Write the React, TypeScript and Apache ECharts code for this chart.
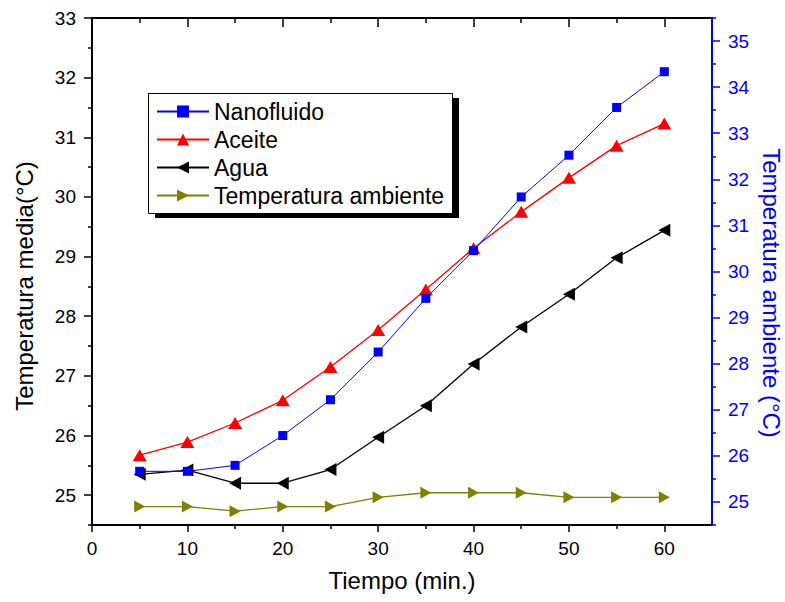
import React, { useEffect, useRef } from "react";
import * as echarts from "echarts";

// Time axis (minutes)
const minutes = [5, 10, 15, 20, 25, 30, 35, 40, 45, 50, 55, 60];

// Mean temperatures (°C), left axis
const nanofluido = [25.4, 25.4, 25.5, 26.0, 26.6, 27.4, 28.3, 29.1, 30.0, 30.7, 31.5, 32.1];
const aceite = [25.67, 25.89, 26.21, 26.59, 27.15, 27.77, 28.45, 29.14, 29.75, 30.32, 30.86, 31.23];
const agua = [25.35, 25.42, 25.2, 25.2, 25.43, 25.97, 26.5, 27.2, 27.82, 28.37, 28.98, 29.44];

// Ambient temperature (°C), right axis
const ambiente = [24.9, 24.9, 24.8, 24.9, 24.9, 25.1, 25.2, 25.2, 25.2, 25.1, 25.1, 25.1];

// Tick labels
const xMajor = [0, 10, 20, 30, 40, 50, 60];
const xMinor = [5, 15, 25, 35, 45, 55];
const leftMajor = [25, 26, 27, 28, 29, 30, 31, 32, 33];
const leftMinor = [24.5, 25.5, 26.5, 27.5, 28.5, 29.5, 30.5, 31.5, 32.5];
const rightMajor = [25, 26, 27, 28, 29, 30, 31, 32, 33, 34, 35];
const rightMinor = [24.5, 25.5, 26.5, 27.5, 28.5, 29.5, 30.5, 31.5, 32.5, 33.5, 34.5, 35.5];

const FONT = "'Liberation Sans', Arial, sans-serif";
const BLUE = "#0000ff";

const pairs = (ys: number[]) => minutes.map((m, i) => [m, ys[i]]);

export default function App() {
  const ref = useRef<HTMLDivElement>(null);

  useEffect(() => {
    if (!ref.current) return;
    const chart = echarts.init(ref.current, undefined, { renderer: "svg" });

    const xBase = {
      type: "value" as const,
      min: 0,
      max: 65,
      interval: 5,
      splitLine: { show: false },
    };
    const yLeft = { type: "value" as const, min: 24.5, max: 33, interval: 0.5, splitLine: { show: false } };
    const yRight = { type: "value" as const, min: 24.5, max: 35.5, interval: 0.5, splitLine: { show: false } };

    chart.setOption({
      animation: false,
      backgroundColor: "#ffffff",
      grid: { left: 92, top: 18, right: 73, bottom: 77, containLabel: false },
      xAxis: [
        {
          ...xBase,
          position: "bottom",
          axisLine: { show: true, onZero: false, lineStyle: { color: "#000", width: 2 } },
          axisTick: { show: true, inside: false, length: 7, customValues: xMajor, lineStyle: { color: "#000", width: 1.5 } },
          axisLabel: { show: true, customValues: xMajor, margin: 14, color: "#000", fontSize: 19, fontFamily: FONT },
        },
        {
          ...xBase,
          position: "bottom",
          axisLine: { show: false, onZero: false },
          axisTick: { show: true, inside: false, length: 4, customValues: xMinor, lineStyle: { color: "#000", width: 1.5 } },
          axisLabel: { show: false },
        },
        {
          ...xBase,
          position: "top",
          axisLine: { show: true, onZero: false, lineStyle: { color: "#000", width: 2 } },
          axisTick: { show: true, inside: true, length: 9, customValues: xMajor, lineStyle: { color: "#000", width: 1.5 } },
          axisLabel: { show: false },
        },
        {
          ...xBase,
          position: "top",
          axisLine: { show: false, onZero: false },
          axisTick: { show: true, inside: true, length: 5, customValues: xMinor, lineStyle: { color: "#000", width: 1.5 } },
          axisLabel: { show: false },
        },
      ],
      yAxis: [
        {
          ...yLeft,
          position: "left",
          axisLine: { show: true, onZero: false, lineStyle: { color: "#000", width: 2 } },
          axisTick: { show: true, inside: false, length: 8, customValues: leftMajor, lineStyle: { color: "#000", width: 1.5 } },
          axisLabel: { show: true, customValues: leftMajor, margin: 16, color: "#000", fontSize: 19, fontFamily: FONT },
        },
        {
          ...yRight,
          position: "right",
          axisLine: { show: true, onZero: false, lineStyle: { color: BLUE, width: 2 } },
          axisTick: { show: true, inside: false, length: 8, customValues: rightMajor, lineStyle: { color: BLUE, width: 1.5 } },
          axisLabel: { show: true, customValues: rightMajor, margin: 16, color: BLUE, fontSize: 19, fontFamily: FONT },
        },
        {
          ...yLeft,
          position: "left",
          axisLine: { show: false, onZero: false },
          axisTick: { show: true, inside: false, length: 4, customValues: leftMinor, lineStyle: { color: "#000", width: 1.5 } },
          axisLabel: { show: false },
        },
        {
          ...yRight,
          position: "right",
          axisLine: { show: false, onZero: false },
          axisTick: { show: true, inside: false, length: 4, customValues: rightMinor, lineStyle: { color: BLUE, width: 1.5 } },
          axisLabel: { show: false },
        },
      ],
      legend: {
        orient: "vertical",
        left: 156,
        top: 100,
        padding: 0,
        itemGap: 5,
        itemWidth: 52,
        itemHeight: 15,
        z: 10,
        textStyle: { color: "#000", fontSize: 23, fontFamily: FONT },
        data: ["Nanofluido", "Aceite", "Agua", "Temperatura ambiente"],
      },
      graphic: [
        {
          type: "rect",
          z: 5,
          shape: { x: 155, y: 98, width: 304, height: 120 },
          style: { fill: "#000" },
        },
        {
          type: "rect",
          z: 6,
          shape: { x: 148.5, y: 93.5, width: 304, height: 120 },
          style: { fill: "#fff", stroke: "#000", lineWidth: 1 },
        },
        {
          type: "text",
          x: 402,
          y: 580,
          style: {
            text: "Tiempo (min.)",
            fill: "#000",
            fontSize: 24,
            fontFamily: FONT,
            align: "center",
            verticalAlign: "middle",
          },
        },
        {
          type: "text",
          x: 24,
          y: 286,
          rotation: Math.PI / 2,
          style: {
            text: "Temperatura media(°C)",
            fill: "#000",
            fontSize: 24,
            fontFamily: FONT,
            align: "center",
            verticalAlign: "middle",
          },
        },
        {
          type: "text",
          x: 771,
          y: 293,
          rotation: -Math.PI / 2,
          style: {
            text: "Temperatura ambiente (°C)",
            fill: BLUE,
            fontSize: 24,
            fontFamily: FONT,
            align: "center",
            verticalAlign: "middle",
          },
        },
      ],
      series: [
        {
          name: "Nanofluido",
          type: "line",
          xAxisIndex: 0,
          yAxisIndex: 0,
          data: pairs(nanofluido),
          symbol: "rect",
          symbolSize: 9,
          color: BLUE,
          lineStyle: { color: BLUE, width: 1 },
          itemStyle: { color: BLUE },
          z: 4,
        },
        {
          name: "Aceite",
          type: "line",
          xAxisIndex: 0,
          yAxisIndex: 0,
          data: pairs(aceite),
          symbol: "triangle",
          symbolSize: [14, 12],
          color: "#ff0000",
          lineStyle: { color: "#ff0000", width: 1.3 },
          itemStyle: { color: "#ff0000" },
          z: 3,
        },
        {
          name: "Agua",
          type: "line",
          xAxisIndex: 0,
          yAxisIndex: 0,
          data: pairs(agua),
          symbol: "triangle",
          symbolRotate: 90,
          symbolSize: [13, 12],
          color: "#000",
          lineStyle: { color: "#000", width: 1.3 },
          itemStyle: { color: "#000" },
          z: 3,
        },
        {
          name: "Temperatura ambiente",
          type: "line",
          xAxisIndex: 0,
          yAxisIndex: 1,
          data: pairs(ambiente),
          symbol: "triangle",
          symbolRotate: -90,
          symbolSize: [12, 11],
          color: "#808000",
          lineStyle: { color: "#808000", width: 1.3 },
          itemStyle: { color: "#808000" },
          z: 3,
        },
      ],
    });

    return () => chart.dispose();
  }, []);

  return <div ref={ref} style={{ width: 785, height: 602, position: "absolute", left: 0, top: 0 }} />;
}
